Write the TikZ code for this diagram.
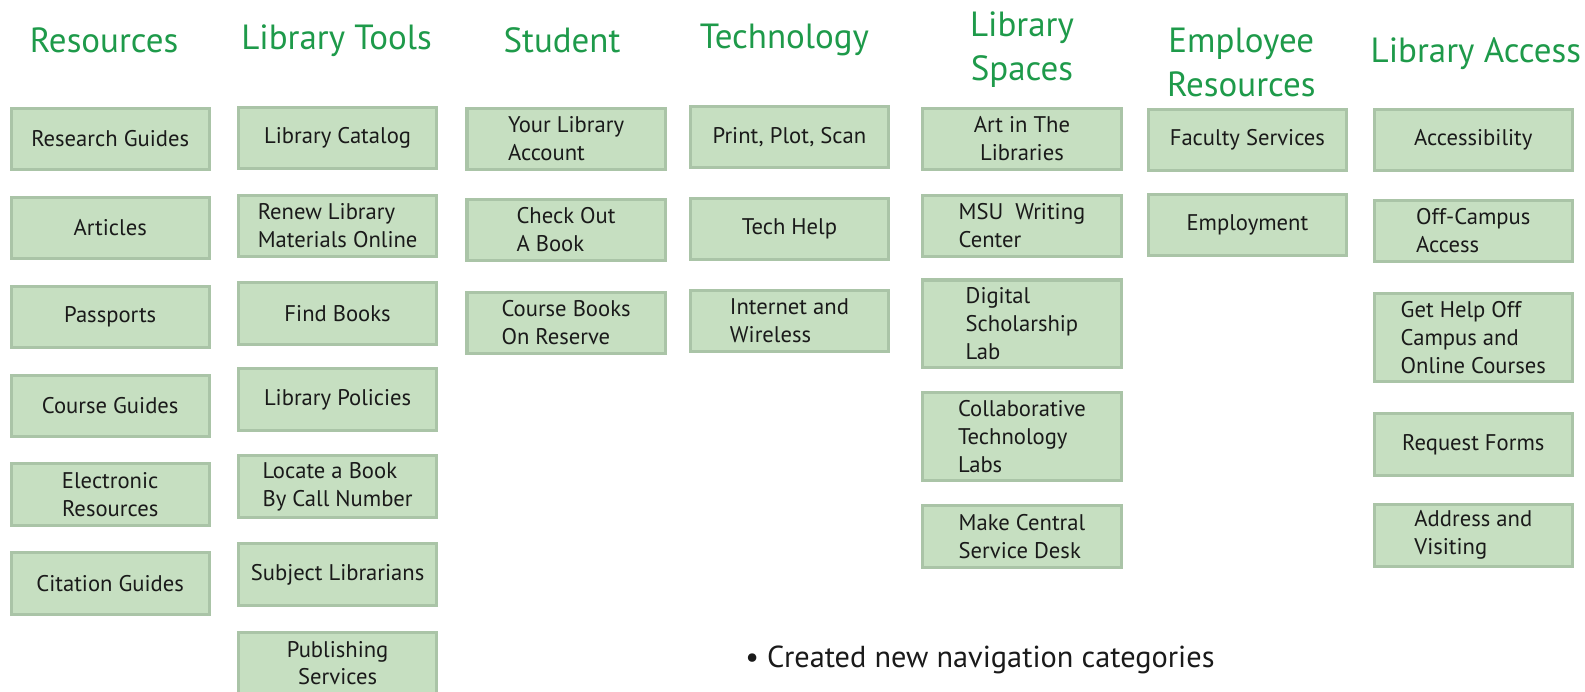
\documentclass[tikz,border=0pt]{standalone}
\usepackage{fontspec}
\setmainfont{PT Sans}
\definecolor{titlegreen}{HTML}{1E9A4A}
\definecolor{boxfill}{HTML}{C6DFC1}
\definecolor{boxline}{HTML}{AAC4A7}
\definecolor{txt}{HTML}{1A1A1A}
\begin{document}
\begin{tikzpicture}[x=0.5pt,y=-0.5pt,
  box/.style={draw=boxline,fill=boxfill,line width=1.5pt,minimum width=98pt,minimum height=30.5pt,inner sep=0pt,align=left,text=txt,font=\fontsize{11.2}{13.8}\selectfont},
  tall/.style={box,minimum height=43.5pt},
  head/.style={text=titlegreen,align=center,font=\fontsize{17.3}{21.5}\selectfont,inner sep=0pt}]
\useasboundingbox (0,0) rectangle (1568,684);
% titles
\node[head] (t1) at (103,40) {Resources};
\node[head] (t2) at (333,40) {Library Tools};
\node[head] (t3) at (556,40) {Student};
\node[head] (t4) at (776,40) {Technology};
\node[head] (t5) at (1011,49) {Library\\Spaces};
\node[head] (t6) at (1228,62) {Employee\\Resources};
\node[head] (t7) at (1460,53) {Library Access};
% column 1
\node[box] (a1) at (109,137.5) {Research Guides};
\node[box] (a2) at (109,225.5) {Articles};
\node[box] (a3) at (109,313.5) {Passports};
\node[box] (a4) at (109,401.5) {Course Guides};
\node[box,align=center] (a5) at (109,489.5) {Electronic\\Resources};
\node[box] (a6) at (109,577.5) {Citation Guides};
% column 2
\node[box] (b1) at (334,136.5) {Library Catalog};
\node[box] (b2) at (334,223.5) {Renew Library\\Materials Online};
\node[box] (b3) at (334,310) {Find Books};
\node[box] (b4) at (334,395.5) {Library Policies};
\node[box] (b5) at (334,481.5) {Locate a Book\\By Call Number};
\node[box] (b6) at (334,568.5) {Subject Librarians};
\node[box,align=center] (b7) at (334,656) {Publishing\\Services};
% column 3
\node[box] (c1) at (560,137.5) {Your Library\\Account};
\node[box] (c2) at (560,227.5) {Check Out\\A Book};
\node[box] (c3) at (560,319.5) {Course Books\\On Reserve};
% column 4
\node[box] (d1) at (781,135.5) {Print, Plot, Scan};
\node[box] (d2) at (781,226.5) {Tech Help};
\node[box] (d3) at (781,317.5) {Internet and\\Wireless};
% column 5
\node[box,align=center] (e1) at (1011,137.5) {Art in The\\Libraries};
\node[box] (e2) at (1011,223.5) {MSU~ Writing\\Center};
\node[tall] (e3) at (1011,320.5) {Digital\\Scholarship\\Lab};
\node[tall] (e4) at (1011,431.5) {Collaborative\\Technology\\Labs};
\node[box] (e5) at (1011,530.5) {Make Central\\Service Desk};
% column 6
\node[box] (f1) at (1234,138.5) {Faculty Services};
\node[box] (f2) at (1234,222.5) {Employment};
% column 7
\node[box] (g1) at (1457.5,138.5) {Accessibility};
\node[box] (g2) at (1457.5,228.5) {Off-Campus\\Access};
\node[tall] (g3) at (1457.5,334) {Get Help Off\\Campus and\\Online Courses};
\node[box] (g4) at (1457.5,439.5) {Request Forms};
\node[box] (g5) at (1457.5,529.5) {Address and\\Visiting};
% note
\node[anchor=west,text=txt,font=\fontsize{15}{18}\selectfont,inner sep=0pt] (note) at (737,653) {\textbullet\ Created new navigation categories};
\end{tikzpicture}
\end{document}
